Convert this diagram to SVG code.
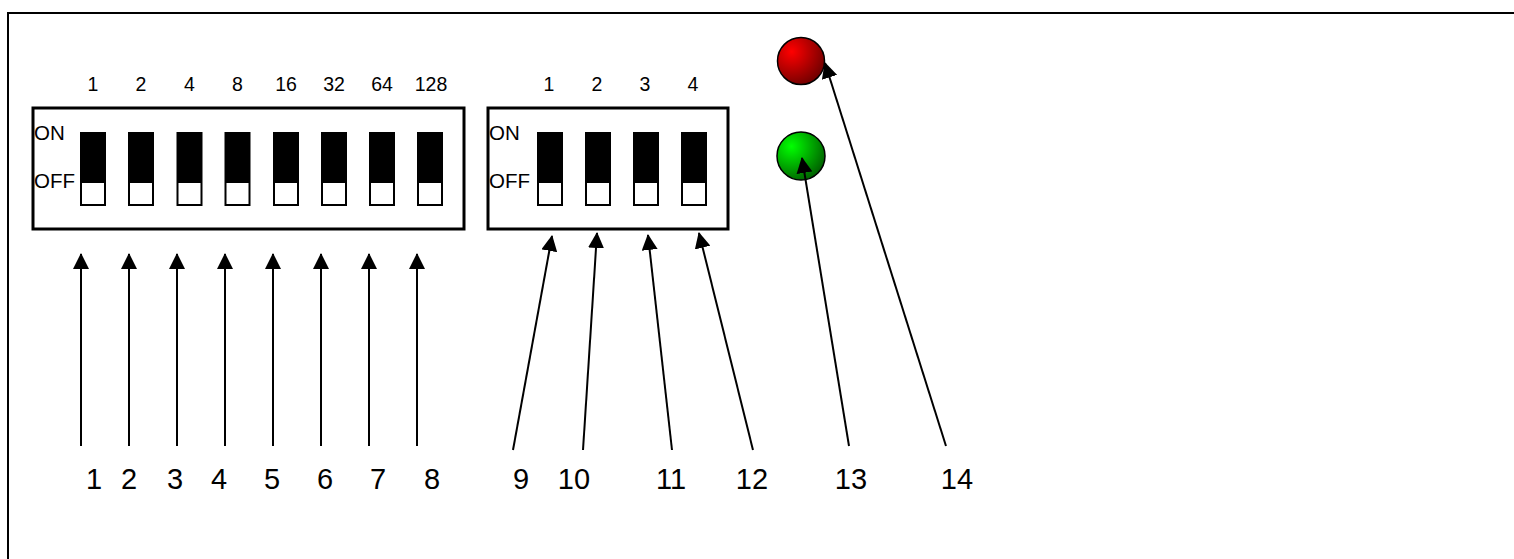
<svg xmlns="http://www.w3.org/2000/svg" width="1514" height="559" viewBox="0 0 1514 559">
<defs>
<style>
text{font-family:"Liberation Sans",Arial,sans-serif;fill:#000}
.top{font-size:19.5px;text-anchor:middle}
.lbl{font-size:20.5px}
.num{font-size:29px;text-anchor:middle}
.box{fill:#fff;stroke:#000;stroke-width:3}
.sw{fill:#000}
.swoff{fill:#fff}
.conn line{stroke:#000;stroke-width:2;marker-end:url(#ah)}
.led{stroke:#000;stroke-width:1.5}
</style>
<marker id="ah" viewBox="0 0 16 16" refX="15" refY="8" markerWidth="16" markerHeight="16" markerUnits="userSpaceOnUse" orient="auto">
<path d="M0,0 L16,8 L0,16 z" fill="#000"/>
</marker>
<radialGradient id="gr" cx="0.3" cy="0.3" r="0.8">
<stop offset="0" stop-color="#ff0000"/>
<stop offset="1" stop-color="#6a0000"/>
</radialGradient>
<radialGradient id="gg" cx="0.3" cy="0.3" r="0.8">
<stop offset="0" stop-color="#00ff00"/>
<stop offset="1" stop-color="#005a00"/>
</radialGradient>
<g id="switch">
<rect x="0" y="0" width="26" height="74" class="sw"/>
<rect x="2" y="51" width="22" height="21" class="swoff"/>
</g>
</defs>
<rect x="0" y="0" width="1514" height="559" fill="#fff"/>
<rect x="8" y="13" width="1530" height="560" fill="none" stroke="#000" stroke-width="2"/>

<g id="dip8">
<rect class="box" x="33" y="108" width="431" height="121"/>
<text class="lbl" x="34" y="140">ON</text>
<text class="lbl" x="34" y="188">OFF</text>
<use href="#switch" x="80" y="132"/>
<use href="#switch" x="128" y="132"/>
<use href="#switch" x="176.5" y="132"/>
<use href="#switch" x="224.5" y="132"/>
<use href="#switch" x="273" y="132"/>
<use href="#switch" x="321" y="132"/>
<use href="#switch" x="369" y="132"/>
<use href="#switch" x="417" y="132"/>
<text class="top" x="93" y="91">1</text>
<text class="top" x="141" y="91">2</text>
<text class="top" x="189.5" y="91">4</text>
<text class="top" x="237.5" y="91">8</text>
<text class="top" x="286" y="91">16</text>
<text class="top" x="334" y="91">32</text>
<text class="top" x="382" y="91">64</text>
<text class="top" x="431" y="91">128</text>
</g>

<g id="dip4">
<rect class="box" x="488" y="108" width="240" height="121"/>
<text class="lbl" x="489" y="140">ON</text>
<text class="lbl" x="489" y="188">OFF</text>
<use href="#switch" x="537" y="132"/>
<use href="#switch" x="585" y="132"/>
<use href="#switch" x="633" y="132"/>
<use href="#switch" x="681" y="132"/>
<text class="top" x="549" y="91">1</text>
<text class="top" x="597" y="91">2</text>
<text class="top" x="645" y="91">3</text>
<text class="top" x="693" y="91">4</text>
</g>

<g id="led-red"><circle class="led" cx="801" cy="61" r="23.5" fill="url(#gr)"/></g>
<g id="led-green"><circle class="led" cx="801" cy="156" r="24" fill="url(#gg)"/></g>

<g id="connectors" class="conn">
<line x1="81" y1="446" x2="81" y2="254"/>
<line x1="129" y1="446" x2="129" y2="254"/>
<line x1="177" y1="446" x2="177" y2="254"/>
<line x1="225" y1="446" x2="225" y2="254"/>
<line x1="273" y1="446" x2="273" y2="254"/>
<line x1="321" y1="446" x2="321" y2="254"/>
<line x1="369" y1="446" x2="369" y2="254"/>
<line x1="417" y1="446" x2="417" y2="254"/>
<line x1="513" y1="450" x2="552" y2="236"/>
<line x1="583" y1="450" x2="597" y2="233"/>
<line x1="672" y1="450" x2="648" y2="235"/>
<line x1="753" y1="450" x2="699" y2="233"/>
<line x1="849" y1="446" x2="802" y2="158"/>
<line x1="946" y1="446" x2="825" y2="63"/>
</g>

<g id="labels">
<text class="num" x="94" y="489">1</text>
<text class="num" x="129" y="489">2</text>
<text class="num" x="175" y="489">3</text>
<text class="num" x="219" y="489">4</text>
<text class="num" x="272" y="489">5</text>
<text class="num" x="325" y="489">6</text>
<text class="num" x="378" y="489">7</text>
<text class="num" x="432" y="489">8</text>
<text class="num" x="521" y="489">9</text>
<text class="num" x="574" y="489">10</text>
<text class="num" x="671" y="489">11</text>
<text class="num" x="752" y="489">12</text>
<text class="num" x="851" y="489">13</text>
<text class="num" x="957" y="489">14</text>
</g>
</svg>
